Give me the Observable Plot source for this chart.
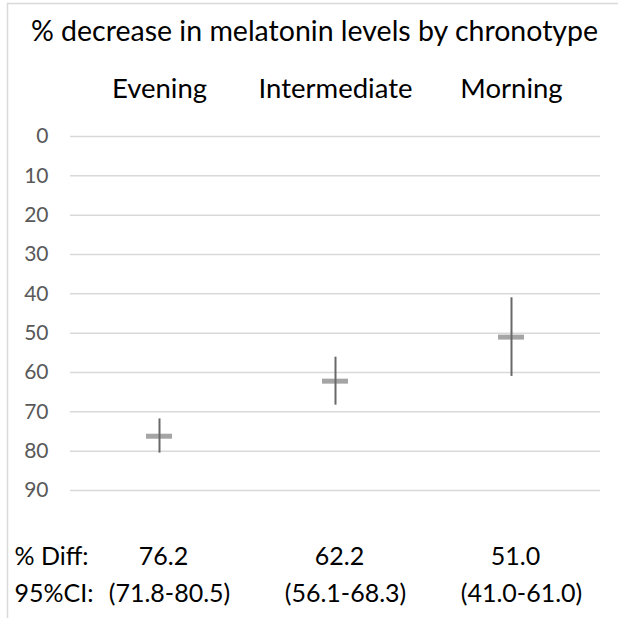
<!DOCTYPE html>
<html>
<head>
<meta charset="utf-8">
<script src="https://cdn.jsdelivr.net/npm/d3@7"></script>
<script src="https://cdn.jsdelivr.net/npm/@observablehq/plot@0.6"></script>
<style>
  html, body { margin: 0; padding: 0; background: #fff; }
  svg { display: block; }
</style>
</head>
<body>
<div id="chart"></div>
<script>
const title = "% decrease in melatonin levels by chronotype";
const categories = ["Evening", "Intermediate", "Morning"];
const diffs = [76.2, 62.2, 51.0];
const ciLow = [71.8, 56.1, 41.0];
const ciHigh = [80.5, 68.3, 61.0];
const yTicks = [0, 10, 20, 30, 40, 50, 60, 70, 80, 90];
const diffLabels = ["76.2", "62.2", "51.0"];
const ciLabels = ["(71.8-80.5)", "(56.1-68.3)", "(41.0-61.0)"];

const data = categories.map((c, i) => ({
  cat: c, diff: diffs[i], lo: ciLow[i], hi: ciHigh[i],
  diffLabel: diffLabels[i], ciLabel: ciLabels[i]
}));

const W = 618, H = 618;
const mL = 70, mR = 18, mT = 136, mB = 128;
const font = "Lato, 'Open Sans', sans-serif";

const plot = Plot.plot({
  width: W,
  height: H,
  marginLeft: mL,
  marginRight: mR,
  marginTop: mT,
  marginBottom: mB,
  style: { fontFamily: font, background: "#fff", overflow: "visible" },
  x: { type: "band", domain: categories, padding: 0 },
  y: { domain: [0, 90], reverse: true },
  marks: [
    Plot.ruleY(yTicks, { stroke: "#d9d9d9", strokeWidth: 1.5 }),
    Plot.axisY({ ticks: yTicks, tickSize: 0, tickPadding: 22, fontSize: 21, fill: "#595959", label: null }),
    Plot.axisX({ anchor: "top", tickSize: 0, tickPadding: 39, fontSize: 27.5, fill: "#000", label: null }),
    Plot.tickY(data, { x: "cat", y: "diff", stroke: "#a5a5a5", strokeWidth: 5, insetLeft: 75, insetRight: 75 }),
    Plot.ruleX(data, { x: "cat", y1: "lo", y2: "hi", stroke: "#686868", strokeWidth: 2 }),
    Plot.text([title], { frameAnchor: "top", dx: -21, dy: -105, fontSize: 28.5, fill: "#000", lineAnchor: "middle" }),
    Plot.text(["% Diff:"], { frameAnchor: "bottom-left", textAnchor: "start", dx: -56, dy: 66, fontSize: 25, fill: "#000", lineAnchor: "middle" }),
    Plot.text(["95%CI:"], { frameAnchor: "bottom-left", textAnchor: "start", dx: -56, dy: 103, fontSize: 25, fill: "#000", lineAnchor: "middle" }),
    Plot.text(data, { x: "cat", text: "diffLabel", frameAnchor: "bottom", dx: 4, dy: 66, fontSize: 25, fill: "#000", lineAnchor: "middle" }),
    Plot.text(data, { x: "cat", text: "ciLabel", frameAnchor: "bottom", dx: 10, dy: 103, fontSize: 25, fill: "#000", lineAnchor: "middle" })
  ]
});

// light border on the left and top edges, as in the reference screenshot
const svg = d3.select(plot);
svg.append("path")
  .attr("d", `M7.5,${H} V3.5 H${W}`)
  .attr("fill", "none")
  .attr("stroke", "#d9d9d9")
  .attr("stroke-width", 1.5);

document.getElementById("chart").appendChild(plot);
</script>
</body>
</html>
